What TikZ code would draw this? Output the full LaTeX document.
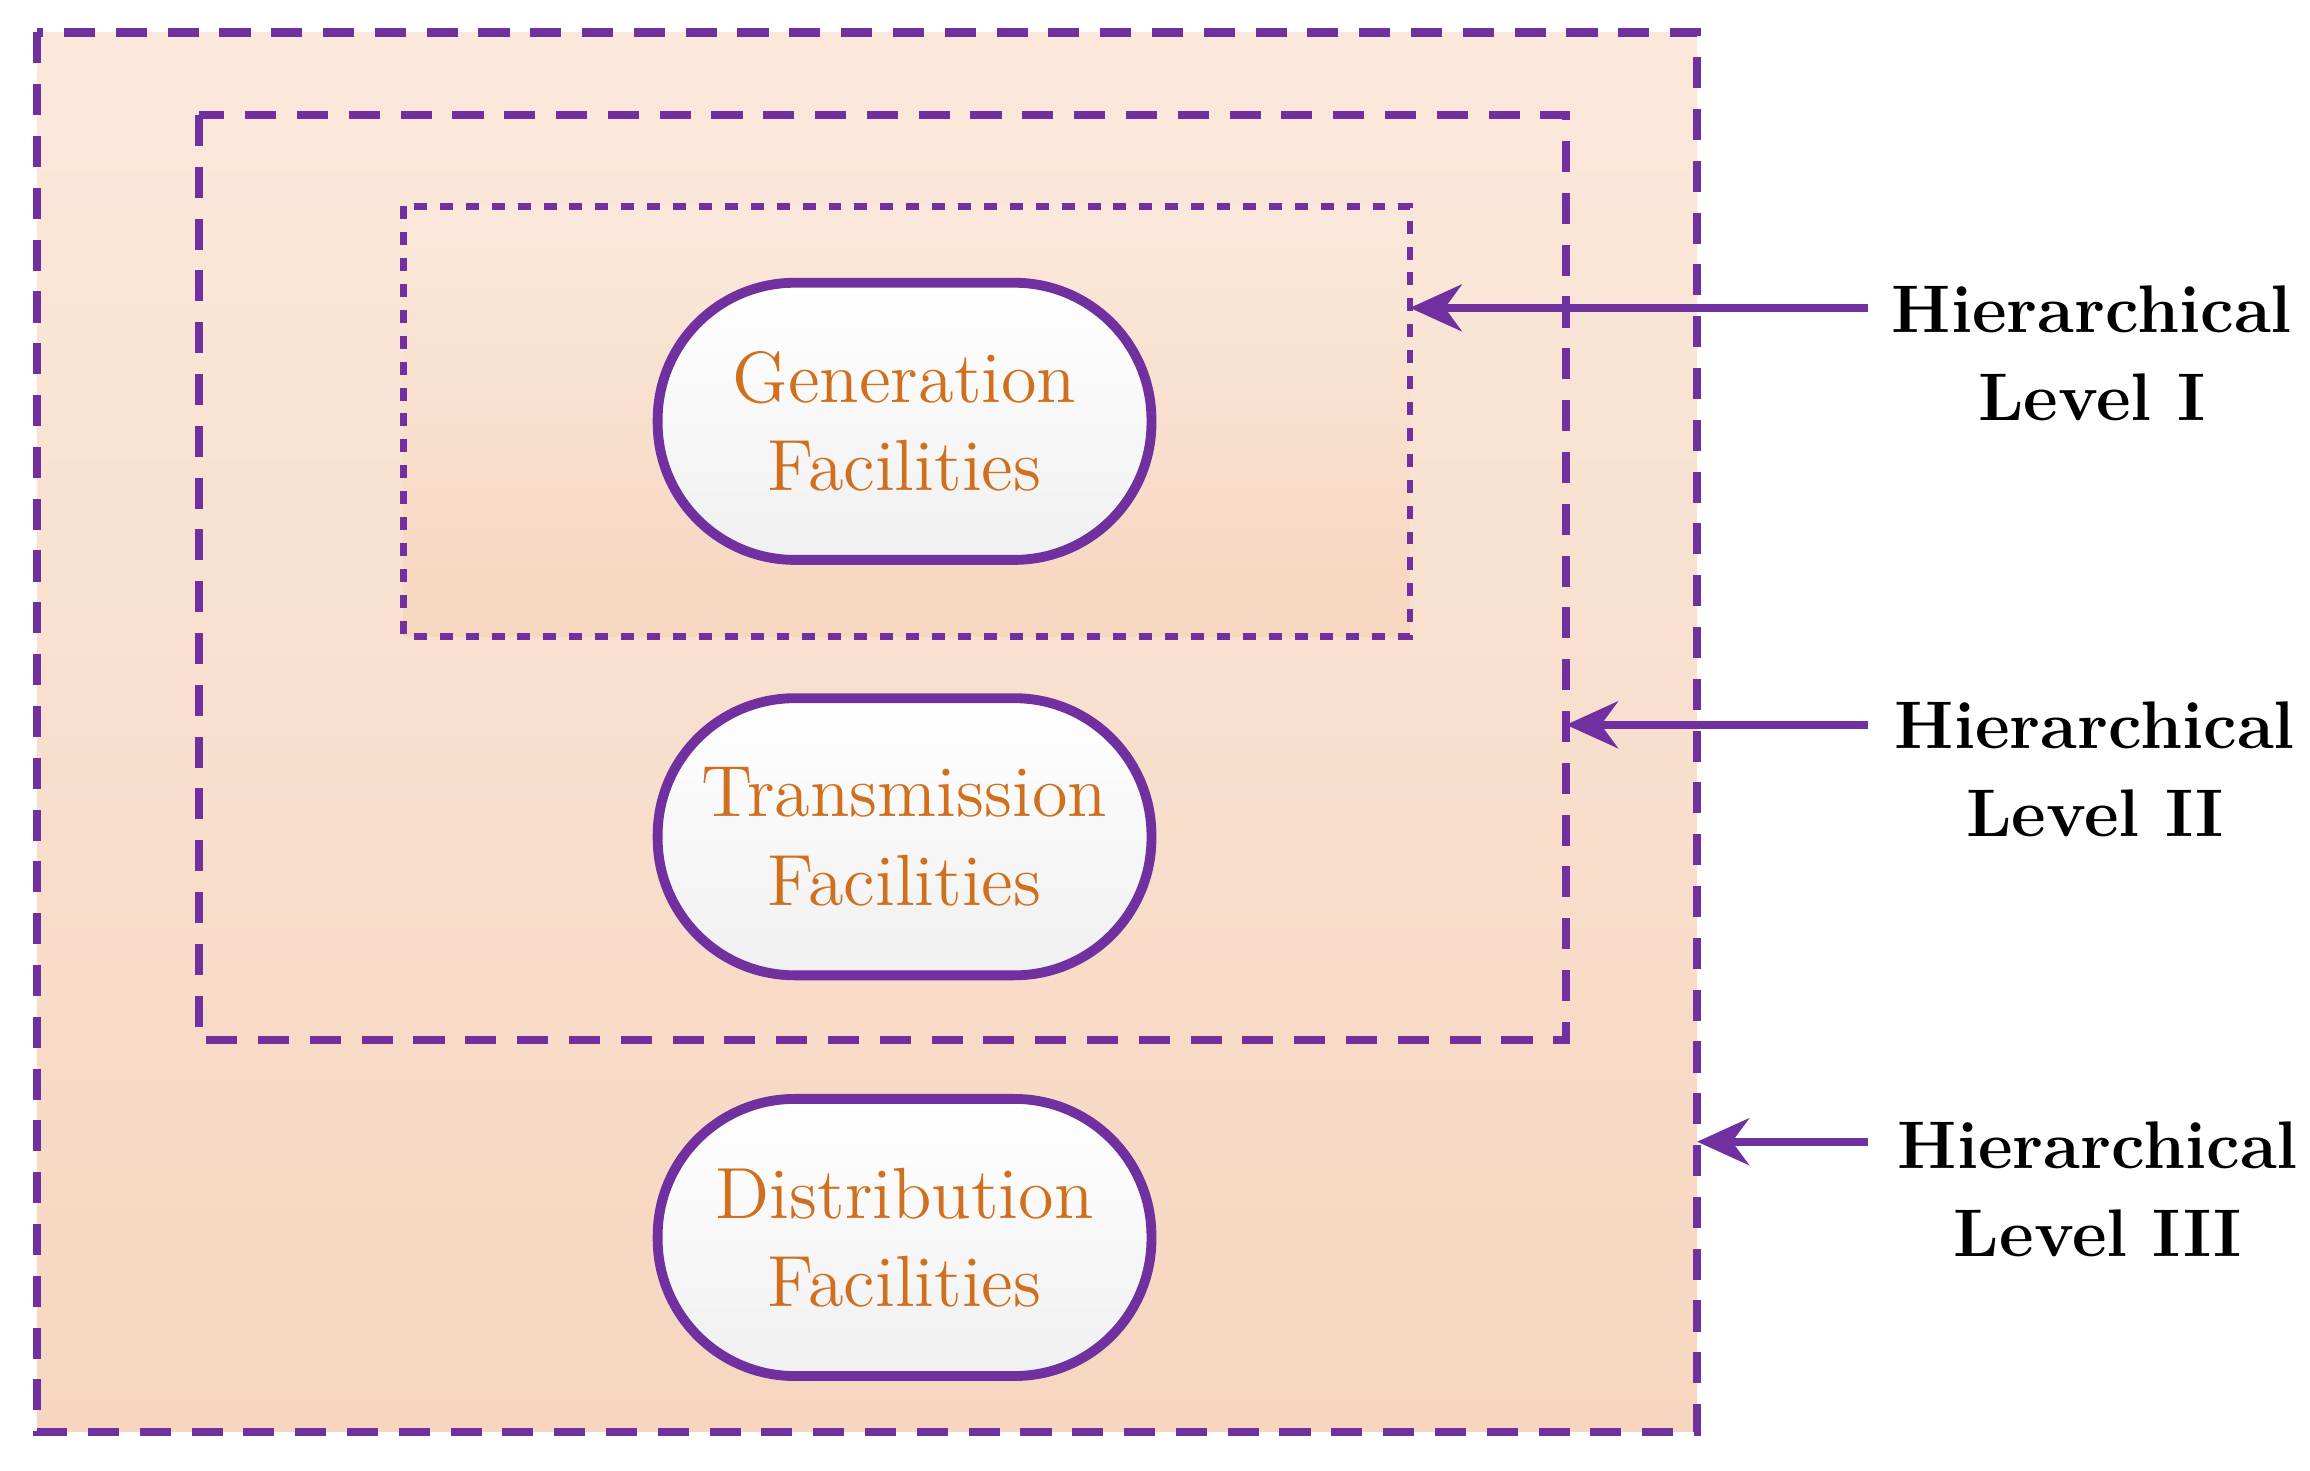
\documentclass[tikz,border=0pt]{standalone}
\usetikzlibrary{arrows.meta}
\begin{document}
\begin{tikzpicture}[x=0.01cm,y=-0.01cm,
  pur/.style={draw=purp,line width=1.6pt},
  fac/.style={pur,line width=1.9pt,minimum width=3.35cm,minimum height=1.88cm,rounded corners=0.93cm,
     top color=white,bottom color=gray!12,text=orng,font=\fontsize{14}{17}\selectfont,align=center},
  lab/.style={font=\bfseries\fontsize{13}{17}\selectfont,align=center},
  arr/.style={draw=purp,line width=1.6pt,-{Stealth[length=10pt,width=9pt]}}]
\definecolor{purp}{HTML}{7030A0}
\definecolor{orng}{HTML}{D0701E}
\definecolor{peachtop}{HTML}{FBE8DB}
\definecolor{peachbot}{HTML}{F6D6BF}
\useasboundingbox (0,0) rectangle (1568,998);
\draw[pur,dash pattern=on 6pt off 4pt,top color=peachtop,bottom color=peachbot] (25,22) rectangle (1152,972);
\draw[pur,dash pattern=on 6pt off 4pt] (135,78) rectangle (1063,706);
\draw[pur,line width=1.3pt,dash pattern=on 2.5pt off 2.5pt,top color=peachtop,bottom color=peachbot] (274,140) rectangle (957,432);
\node[fac] (g) at (614,286) {Generation\\Facilities};
\node[fac] (t) at (614,568) {Transmission\\Facilities};
\node[fac] (d) at (614,840) {Distribution\\Facilities};
\node[lab] (l1) at (1420,240) {Hierarchical\\Level I};
\node[lab] (l2) at (1422,522) {Hierarchical\\Level II};
\node[lab] (l3) at (1424,807) {Hierarchical\\Level III};
\coordinate (e1) at (957,209); \coordinate (s1) at (1268,209);
\coordinate (e2) at (1063,492); \coordinate (s2) at (1268,492);
\coordinate (e3) at (1152,775); \coordinate (s3) at (1268,775);
\draw[arr] (s1) -- (e1);
\draw[arr] (s2) -- (e2);
\draw[arr] (s3) -- (e3);
\end{tikzpicture}
\end{document}
